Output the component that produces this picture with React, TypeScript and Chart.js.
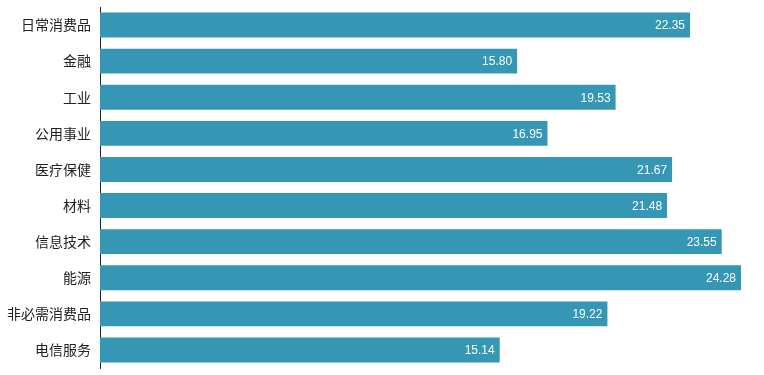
import React, { useEffect, useRef } from "react";
import { Chart, registerables } from "chart.js";

Chart.register(...registerables);

const categories = ["日常消费品", "金融", "工业", "公用事业", "医疗保健", "材料", "信息技术", "能源", "非必需消费品", "电信服务"];
const values = [22.35, 15.8, 19.53, 16.95, 21.67, 21.48, 23.55, 24.28, 19.22, 15.14];

const valueLabels = {
  id: "valueLabels",
  afterDatasetsDraw(chart: any) {
    const ctx = chart.ctx;
    const meta = chart.getDatasetMeta(0);
    ctx.save();
    ctx.fillStyle = "#ffffff";
    ctx.font = "12px 'Liberation Sans', Arial, sans-serif";
    ctx.textAlign = "right";
    ctx.textBaseline = "middle";
    meta.data.forEach((bar: any, i: number) => {
      ctx.fillText(values[i].toFixed(2), bar.x - 5, bar.y + 1);
    });
    ctx.restore();
  },
};

export default function App() {
  const ref = useRef<HTMLCanvasElement>(null);
  useEffect(() => {
    if (!ref.current) return;
    const chart = new Chart(ref.current, {
      type: "bar",
      data: {
        labels: categories,
        datasets: [
          {
            data: values,
            backgroundColor: "#3597b4",
            borderWidth: 0,
            categoryPercentage: 1,
            barPercentage: 0.69,
          },
        ],
      },
      options: {
        indexAxis: "y",
        animation: false,
        responsive: false,
        layout: { padding: { top: 7, bottom: 7, right: 4, left: 0 } },
        plugins: { legend: { display: false }, tooltip: { enabled: false } },
        scales: {
          x: { display: false, min: 0, max: 25 },
          y: {
            afterFit: (scale: any) => {
              scale.width = 100;
              scale.paddingTop = 0;
              scale.paddingBottom = 0;
            },
            grid: { display: false, drawTicks: false },
            border: { display: true, color: "#222", width: 1 },
            ticks: {
              padding: 9,
              color: "#222",
              font: { size: 14, family: "'Noto Sans CJK SC', sans-serif" },
            },
          },
        },
      },
      plugins: [valueLabels],
    });
    return () => chart.destroy();
  }, []);
  return (
    <div style={{ position: "fixed", left: 0, top: 0, width: 764, height: 375, background: "#fff" }}>
      <canvas ref={ref} width={764} height={375} />
    </div>
  );
}
